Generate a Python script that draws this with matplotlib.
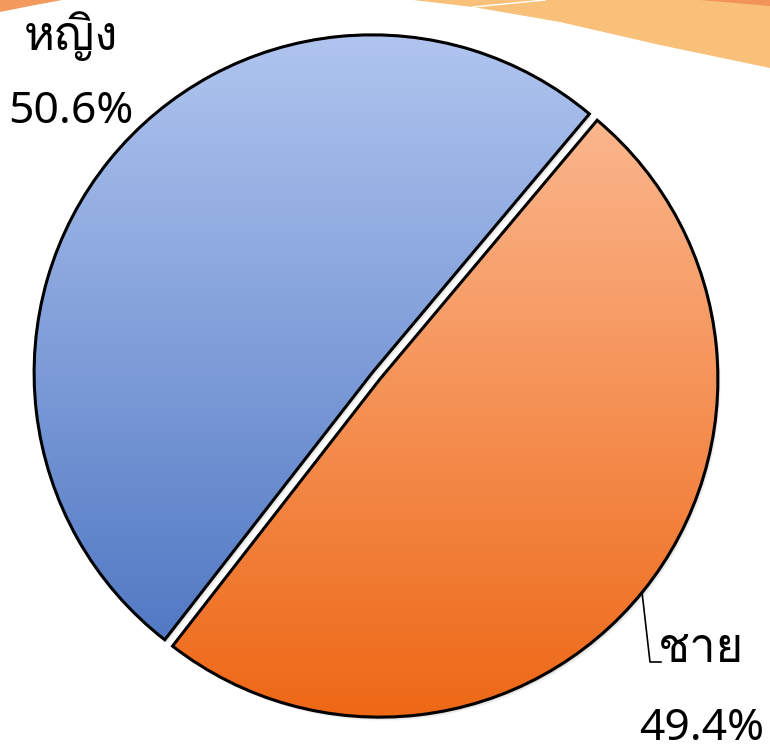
import numpy as np
import matplotlib
matplotlib.use("Agg")
import matplotlib.pyplot as plt
from matplotlib import font_manager
from matplotlib.ft2font import FT2Font
from matplotlib.colors import LinearSegmentedColormap
from matplotlib.patches import PathPatch
from matplotlib.path import Path

# data
labels = ["หญิง", "ชาย"]
values = [50.6, 49.4]
pct_text = ["50.6%", "49.4%"]

W, H = 770, 754


# find an installed font that has Thai glyphs
def thai_font():
    for f in font_manager.fontManager.ttflist:
        try:
            if ord("ช") in FT2Font(f.fname).get_charmap():
                return f.name
        except Exception:
            pass
    return "DejaVu Sans"


fam = [thai_font(), "DejaVu Sans"]

fig = plt.figure(figsize=(W / 100, H / 100), dpi=100)
ax = fig.add_axes([0, 0, 1, 1])

# explode is in data units here (pixels)
wedges, _ = ax.pie(values, startangle=50, counterclock=True,
                   center=(376, H - 376), radius=338,
                   explode=[5, 5],
                   wedgeprops=dict(facecolor="none", edgecolor="black",
                                   linewidth=2.2, zorder=4))

# soft shadow under the slices
for w in wedges:
    p = w.get_path()
    for k in range(1, 5):
        sh = PathPatch(Path(p.vertices + [k * 0.7, -k * 0.9], p.codes),
                       facecolor="black", alpha=0.045, edgecolor="none",
                       zorder=1)
        ax.add_patch(sh)

# vertical gradient fill clipped to each wedge
grads = [("#b0c5ef", "#5279c4"), ("#fbb68d", "#ee6816")]
for w, (top, bot) in zip(wedges, grads):
    bb = w.get_path().get_extents()
    cmap = LinearSegmentedColormap.from_list("g", [top, bot])
    g = np.linspace(0, 1, 256).reshape(-1, 1)
    im = ax.imshow(g, cmap=cmap, aspect="auto", origin="upper",
                   extent=(bb.x0, bb.x1, bb.y0, bb.y1), zorder=2)
    im.set_clip_path(w)

# decoration at the top edge
ax.fill([0, 0, 30, 62, 0], [H, H - 12, H - 6, H, H], color="#f49a5e",
        lw=0, zorder=0)
ax.fill([413, 473, 560, 660, 770, 770, 413],
        [H, H - 7, H - 22, H - 45, H - 68, H, H], color="#f9c07a",
        lw=0, zorder=0)
ax.fill([700, 770, 770, 700], [H, H - 6, H, H], color="#f2935a",
        lw=0, zorder=0)
ax.plot([473, 545], [H - 7, H], color="white", lw=1, zorder=0)

# labels
ax.text(71, H - 36, labels[0], fontsize=34, family=fam,
        ha="center", va="center")
ax.text(71, H - 112, pct_text[0], fontsize=32, family="Noto Sans",
        ha="center", va="center")
ax.plot([642, 650, 661], [H - 592, H - 662, H - 662], color="black",
        lw=1.2, zorder=5)
ax.text(701, H - 650, labels[1], fontsize=34, family=fam,
        ha="center", va="center")
ax.text(702, H - 729, pct_text[1], fontsize=32, family="Noto Sans",
        ha="center", va="center")

ax.set_xlim(0, W)
ax.set_ylim(0, H)
ax.set_aspect("auto")
ax.axis("off")

fig.savefig("out.png", dpi=100)
